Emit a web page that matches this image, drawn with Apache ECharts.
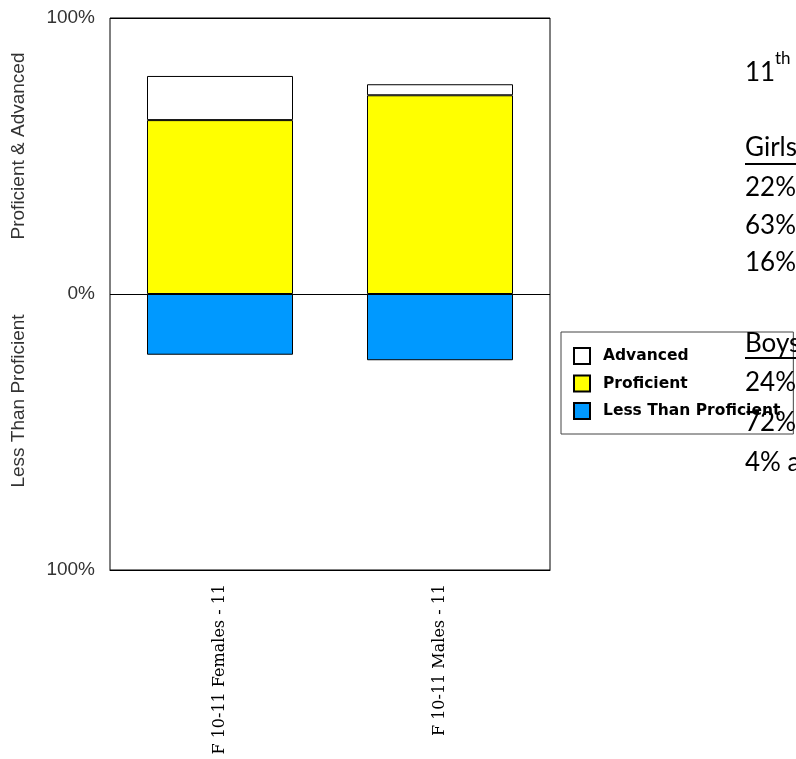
<!DOCTYPE html>
<html>
<head>
<meta charset="utf-8">
<script src="https://cdn.jsdelivr.net/npm/echarts@6/dist/echarts.min.js"></script>
<style>
html,body{margin:0;padding:0;background:#fff;}
#chart{width:796px;height:759px;}
</style>
</head>
<body>
<div id="chart"></div>
<script>
const categories = ['F 10-11 Females - 11', 'F 10-11 Males - 11'];
const lessThanProficient = [-22, -24];
const proficient = [63, 72];
const advanced = [16, 4];
const yTicks = [-100, 0, 100];
const noteLines = [
  { text: '22%', baseline: 197 },
  { text: '63%', baseline: 235 },
  { text: '16%', baseline: 272 },
  { text: '24%', baseline: 392 },
  { text: '72%', baseline: 432 },
  { text: '4% a', baseline: 472 }
];

const chart = echarts.init(document.getElementById('chart'));
const txtFont = '26px Lato';
function noteText(t, baseline, x, font) {
  return { type: 'text', z: 100, x: x, y: baseline - 9,
    style: { text: t, font: font || txtFont, fill: '#000', verticalAlign: 'middle', align: 'left' } };
}
const graphics = [
  { type: 'text', z: 100, x: 19, y: 146, rotation: Math.PI / 2,
    style: { text: 'Proficient & Advanced', font: '19px "Liberation Sans"', fill: '#333', align: 'center', verticalAlign: 'middle' } },
  { type: 'text', z: 100, x: 19, y: 401, rotation: Math.PI / 2,
    style: { text: 'Less Than Proficient', font: '19px "Liberation Sans"', fill: '#333', align: 'center', verticalAlign: 'middle' } },
  noteText('11', 82, 745),
  { type: 'text', z: 100, x: 775, y: 59, style: { text: 'th', font: '17px Lato', fill: '#000', verticalAlign: 'middle', align: 'left' } },
  noteText('Girls', 157, 745),
  { type: 'rect', z: 100, shape: { x: 745, y: 163, width: 60, height: 2 }, style: { fill: '#000' } },
  noteText('Boys', 353, 745),
  { type: 'rect', z: 100, shape: { x: 745, y: 357, width: 60, height: 2 }, style: { fill: '#000' } }
];
noteLines.forEach(n => graphics.push(noteText(n.text, n.baseline, 745)));

const barStyle = (c) => ({ color: c, borderColor: '#000', borderWidth: 1 });
chart.setOption({
  backgroundColor: '#fff',
  animation: false,
  grid: { left: 110, right: 246, top: 18, bottom: 189, show: true, borderColor: '#000', borderWidth: 1, backgroundColor: '#fff' },
  legend: {
    orient: 'vertical', left: 561, top: 332,
    data: ['Advanced', 'Proficient', 'Less Than Proficient'],
    icon: 'rect', itemWidth: 16, itemHeight: 16, itemGap: 9.5,
    padding: [15, 13, 14, 12],
    backgroundColor: '#fff', borderColor: '#444', borderWidth: 1,
    textStyle: { fontFamily: 'DejaVu Sans', fontWeight: 'bold', fontSize: 15.5, lineHeight: 16, color: '#000', padding: [0, 0, 0, 8] }
  },
  xAxis: {
    type: 'category', data: categories, position: 'bottom',
    axisLine: { onZero: false, show: true, lineStyle: { color: '#000' } },
    axisTick: { show: false },
    axisLabel: { rotate: 90, margin: 14, fontFamily: 'DejaVu Serif', fontSize: 16, color: '#000', interval: 0 }
  },
  yAxis: {
    type: 'value', min: yTicks[0], max: yTicks[2], interval: 100,
    axisLine: { show: false }, axisTick: { show: false },
    splitLine: { show: true, lineStyle: { color: '#000', width: 1 } },
    axisLabel: { margin: 15, fontFamily: 'Liberation Sans', fontSize: 19, color: '#333',
      formatter: v => Math.abs(v) + '%' }
  },
  series: [
    { name: 'Less Than Proficient', type: 'bar', stack: 's', barWidth: 146, data: lessThanProficient, itemStyle: barStyle('#0099FF') },
    { name: 'Proficient', type: 'bar', stack: 's', barWidth: 146, data: proficient, itemStyle: barStyle('#FFFF00') },
    { name: 'Advanced', type: 'bar', stack: 's', barWidth: 146, data: advanced, itemStyle: barStyle('#FFFFFF') }
  ],
  graphic: graphics
});
</script>
</body>
</html>
